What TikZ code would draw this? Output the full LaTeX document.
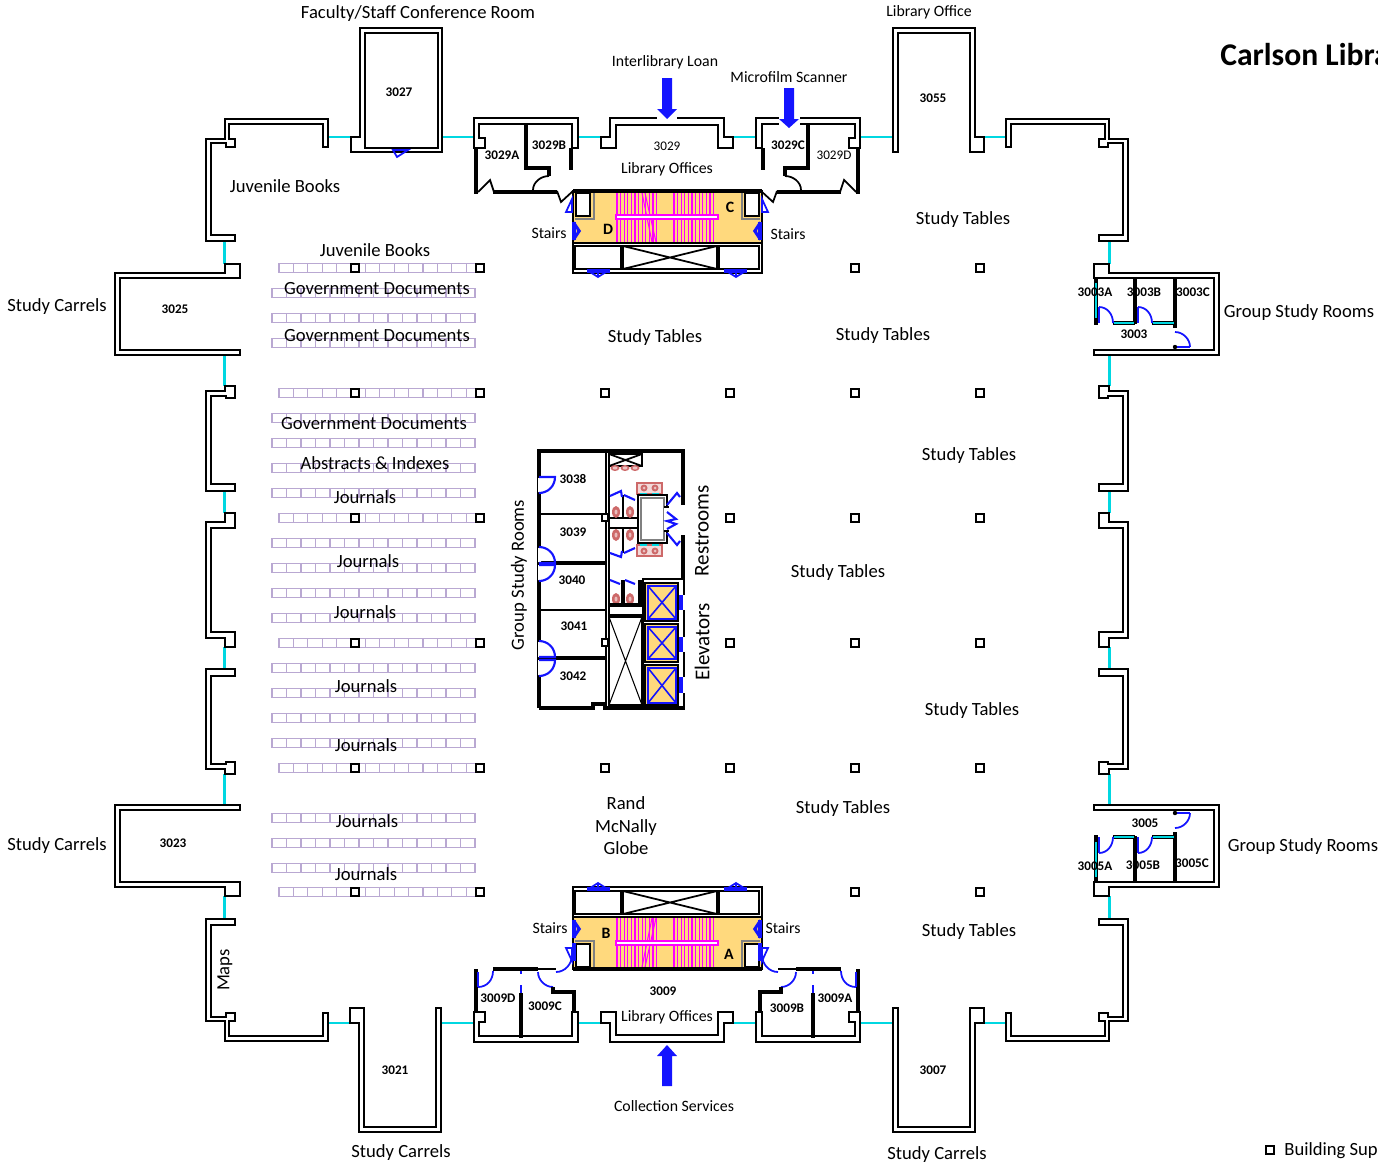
\documentclass[tikz,border=0pt]{standalone}
\usepackage{fontspec}
\setmainfont{Carlito}
\definecolor{winblue}{RGB}{20,20,255}
\definecolor{wincyan}{RGB}{0,215,225}
\definecolor{shelfc}{RGB}{185,168,210}
\definecolor{stairy}{RGB}{255,217,125}
\definecolor{fixt}{RGB}{205,105,105}
\definecolor{stairm}{RGB}{255,0,255}
\tikzset{
  wall/.style={draw=black,line width=1.25pt,fill=white,line join=miter},
  wallo/.style={draw=black,line width=1.25pt,line join=miter},
  heavy/.style={draw=black,line width=2pt},
  win/.style={draw=wincyan,line width=1.3pt},
  door/.style={draw=winblue,line width=1pt},
  ldoor/.style={draw=black,line width=1pt},
  stair/.style={draw=stairm,line width=0.6pt},
  shelf/.style={draw=shelfc,line width=0.6pt},
  pillar/.style={draw=black,line width=1.5pt,fill=white},
  lbl/.style={font=\fontsize{10.6}{12}\selectfont,inner sep=0pt,align=center},
  lblb/.style={font=\fontsize{12}{14}\selectfont,inner sep=0pt},
  lbls/.style={font=\fontsize{9}{10}\selectfont,inner sep=0pt},
  num/.style={font=\fontsize{7.5}{8}\selectfont\bfseries,inner sep=0pt},
  numr/.style={font=\fontsize{7.5}{8}\selectfont,inner sep=0pt},
  mirror/.style 2 args={shift={(667,580)},xscale=#1,yscale=#2,shift={(-667,-580)}},
}
\newcommand{\bluearrowdown}[4]{\fill[winblue] (#1-5,#2)--(#1+5,#2)--(#1+5,#3)--(#1+10,#3)--(#1,#4)--(#1-10,#3)--(#1-5,#3)--cycle;}
\newcommand{\toilet}[2]{\fill[fixt] (#1,#2) ellipse (4 and 6);\fill[fixt!45] (#1,#2) ellipse (1.5 and 2.5);}
\begin{document}
\begin{tikzpicture}[x=0.02cm,y=-0.02cm]
\useasboundingbox (0,0) rectangle (1378,1163);

% shelves
\foreach \y in {268,393,518,643,768,892}{
  \foreach \i in {0,...,13}
    \draw[shelf] ({279+\i*14.4},\y-4.5) rectangle ++(14.4,9);
}
\foreach \y in {293,318,343,418,443,468,493,543,568,593,618,668,693,718,743,818,843,868}{
  \foreach \i in {0,...,13}
    \draw[shelf] ({272+\i*14.5},\y-4.5) rectangle ++(14.5,9);
}

% pillars
\foreach \x in {355,480,855,980}
  \foreach \y in {268,393,518,643,768,892}
    \draw[pillar] (\x-4,\y-4) rectangle (\x+4,\y+4);
\foreach \y in {393,768}
  \draw[pillar] (601,\y-4) rectangle (609,\y+4);
\foreach \y in {393,518,643,768}
  \draw[pillar] (726,\y-4) rectangle (734,\y+4);
\draw[pillar] (1266,1146) rectangle (1274,1154);

% outer shell, one quarter four times
\foreach \sx/\sy in {1/1,-1/1,1/-1,-1/-1}{
\begin{scope}[mirror={\sx}{\sy}]
  \draw[win] (224.5,241)--(224.5,264) (224.5,355)--(224.5,386) (224.5,491)--(224.5,513);
  \draw[win] (328,137)--(360,137) (442,137)--(474,137) (578,137)--(610,137);
  \draw[wall] (206,241)--(206,139)--(225,139)--(225,119)--(328,119)--(328,147)--(323,147)--(323,124)--(229,124)--(229,139)--(235,139)--(235,147)--(226,147)--(226,143)--(211,143)--(211,235)--(235,235)--(235,241)--cycle;
  \draw[wall] (225,264)--(240,264)--(240,278)--(120,278)--(120,350)--(240,350)--(240,355)--(115,355)--(115,273)--(225,273)--cycle;
  \draw[wall] (206,391)--(225,391)--(225,386)--(235,386)--(235,398)--(226,398)--(226,396)--(211,396)--(211,484)--(235,484)--(235,491)--(206,491)--cycle;
  \draw[wallo] (206,580)--(206,522)--(225,522)--(225,513)--(235,513)--(235,528)--(211,528)--(211,580);
  \draw[wall] (474,148)--(474,118)--(578,118)--(578,148)--(572,148)--(572,124)--(479,124)--(479,138)--(485,138)--(485,148)--cycle;
  \draw[wallo] (667.5,118)--(610,118)--(610,137)--(601,137)--(601,148)--(616,148)--(616,125)--(667.5,125);
\end{scope}
}

% carrel rooms that stick out
\draw[wall] (351,137)--(360,137)--(360,28)--(442,28)--(442,152)--(351,152)--cycle;
\draw[wall] (365,33) rectangle (438,148);
\draw[door] (393,150)--(408,150)--(397,157)--cycle;
\foreach \sx/\sy in {-1/1,-1/-1,1/-1}{
\begin{scope}[mirror={-\sx}{\sy}]
  \draw[wall] (893,152)--(893,28)--(975,28)--(975,137)--(984,137)--(984,152)--(970,152)--(970,33)--(898,33)--(898,152)--cycle;
\end{scope}
}

% stair cores
\foreach \sy in {1,-1}{
\begin{scope}[mirror={1}{\sy}]
  \fill[stairy] (574,193) rectangle (761,242);
  \foreach \x in {617,620.6,...,660}
    \draw[stair] (\x,193)--(\x,242);
  \foreach \x in {674,677.6,...,717}
    \draw[stair] (\x,193)--(\x,242);
  \draw[stair] (642,193)--(652,242) (645,193)--(656,242);
  \draw[stair,fill=white] (616,215) rectangle (718,219);
  \draw[wallo] (573,191) rectangle (762,273);
  \draw[heavy] (573,191)--(762,191);
  \draw[wallo] (573,243)--(762,243);
  \draw[wall] (575,246) rectangle (621,269);
  \draw[wall] (623,246) rectangle (717,269);
  \draw[ldoor] (623,246)--(717,269) (623,269)--(717,246);
  \draw[wall] (719,246) rectangle (759,269);
  \draw[draw=gray,line width=1pt] (575,219)--(594,219)--(594,193);
  \draw[wall] (576,193) rectangle (590,216);
  \draw[draw=gray,line width=1pt] (760,219)--(742,219)--(742,193);
  \draw[wall] (745,193) rectangle (759,216);
\end{scope}
}
\foreach \sx/\sy in {1/1,-1/1,1/-1,-1/-1}{
\begin{scope}[mirror={\sx}{\sy}]
  \draw[door,line width=1.8pt] (574,222)--(574,240);
  \draw[door] (574,222)--(580,231)--(574,240) (576,226)--(578,231)--(576,236);
  \draw[door,line width=1.8pt] (587,271)--(610,271);
  \draw[door] (590,272)--(598,277)--(606,272) (598,271)--(598,277);
\end{scope}
}
\foreach \sx in {1,-1}{
\begin{scope}[mirror={\sx}{1}]
  \draw[door] (572,199)--(566,212)--(572,212)--cycle;
\end{scope}
\begin{scope}[mirror={\sx}{-1}]
  \draw[door] (572,199)--(566,212)--(572,212)--cycle;
  \draw[door,line width=1.8pt] (574,199)--(574,217);
\end{scope}
}

% office partitions, top
\foreach \sx in {1,-1}{
\begin{scope}[mirror={\sx}{1}]
  \draw[heavy] (476,148)--(476,192)--(478,192);
  \draw[ldoor] (478,192)--(490,180)--(494,192);
  \draw[heavy] (493,192)--(557,192);
  \draw[heavy] (526,124)--(526,168)--(549,168)--(549,176);
  \draw[ldoor] (533,190) .. controls (533,182) and (541,176) .. (549,176);
  \draw[heavy] (571,148)--(571,170);
  \draw[ldoor] (557,191)--(561,202)--(573,191);
\end{scope}
% office partitions, bottom
\begin{scope}[mirror={\sx}{1}]
  \draw[heavy] (476,1013)--(476,969);
  \draw[door,line width=1.6pt] (478,972)--(478,987);
  \draw[door] (493,971) .. controls (493,980) and (487,987) .. (478,987);
  \draw[heavy] (493,969)--(538,969);
  \draw[ldoor] (538,969)--(556,969);
  \draw[door] (538,972) .. controls (538,980) and (545,987) .. (553,987);
  \draw[heavy] (553,987)--(553,992)--(574,992)--(574,1013);
  \draw[door] (556,972) .. controls (565,972) and (572,964) .. (572,955);
  \draw[heavy] (521,993)--(521,1038);
  \draw[door,line width=1.6pt] (521,985)--(521,993) (521,971)--(521,974);
\end{scope}
}

% group study rooms, right side
\foreach \sy in {1,-1}{
\begin{scope}[mirror={1}{\sy}]
  \draw[heavy] (1096,278)--(1096,325);
  \draw[win,line width=1.5pt] (1096,283)--(1096,318);
  \draw[heavy] (1135,278)--(1135,324) (1175,278)--(1175,328);
  \draw[heavy] (1113,323)--(1135,323) (1152,323)--(1175,323);
  \draw[win] (1114,323)--(1134,323) (1153,323)--(1174,323);
  \draw[door,line width=1.6pt] (1099,307)--(1099,323) (1138,307)--(1138,323);
  \draw[door] (1099,307) .. controls (1107,307) and (1113,314) .. (1113,323);
  \draw[door] (1138,307) .. controls (1146,307) and (1152,314) .. (1152,323);
  \draw[door,line width=1.6pt] (1175,347)--(1190,347);
  \draw[door] (1175,332) .. controls (1183,332) and (1190,339) .. (1190,347);
  \fill (1175,347) circle (2.2);
\end{scope}
}

% centre block: study rooms
\draw[heavy] (539,708)--(539,451)--(685,451);
\draw[heavy] (539,708)--(593,708)--(593,704)--(605,704)--(605,708)--(685,708);
\draw[wallo] (606,451)--(606,708);
\draw[line width=0.8pt] (609,453)--(609,706);
\draw[wallo] (539,514)--(606,514) (539,610)--(606,610);
\draw[heavy] (539,563)--(606,563) (539,658)--(606,658);
\fill[white] (538,478) rectangle (541,492) (538,548) rectangle (541,562) (538,565) rectangle (541,580) (538,642) rectangle (541,657) (538,660) rectangle (541,675);
\draw[door,line width=1.2pt] (539,477)--(555,477) .. controls (555,486) and (548,493) .. (539,493);
\draw[door,line width=1.2pt] (539,547) .. controls (548,547) and (555,554) .. (555,563)--(539,563);
\draw[door,line width=1.2pt] (539,565)--(555,565) .. controls (555,574) and (548,581) .. (539,581);
\draw[door,line width=1.2pt] (539,641) .. controls (548,641) and (555,648) .. (555,657)--(539,657);
\draw[door,line width=1.2pt] (539,660)--(555,660) .. controls (555,669) and (548,676) .. (539,676);
\draw[wall,line width=0.9pt] (602,514) rectangle (608,521);
\draw[wall,line width=0.9pt] (602,639) rectangle (608,646);

% centre block: restrooms
\draw[heavy,line width=2.8pt] (683,453)--(683,505) (683,535)--(683,580);
\draw[wall] (609,454) rectangle (642,466);
\draw[ldoor] (609,454)--(642,466) (609,466)--(642,454);
\foreach \x in {615,625,635}{
  \fill[fixt] (\x,468) ellipse (4.5 and 3);
  \fill[fixt!40] (\x,468) ellipse (2.5 and 1.5);
}
\draw[draw=fixt,fill=fixt!25,line width=0.6pt] (637,483) rectangle (662,494);
\draw[draw=fixt,fill=fixt!25,line width=0.6pt] (637,545) rectangle (662,556);
\foreach \x/\y in {644/488,655/488,644/551,655/551}{
  \fill[fixt] (\x,\y) circle (3.5);
  \fill[fixt!40] (\x,\y) circle (1.5);
}
\draw[win,line width=0.9pt] (640,494)--(647,494) (652,494)--(659,494) (640,545)--(647,545) (652,545)--(659,545);
\draw[wall] (638,495) rectangle (667,543);
\draw[draw=gray,line width=0.8pt] (641,498) rectangle (664,540);
\fill[white] (664,507) rectangle (669,531);
\draw[wallo] (664,507)--(669,507) (664,531)--(669,531);
\draw[wallo] (609,518)--(638,518) (609,528)--(638,528);
\draw[wallo] (623,495)--(623,518) (623,528)--(623,553);
\foreach \x in {616,630}{
  \toilet{\x}{512}
  \toilet{\x}{535}
  \toilet{\x}{599}
}
\draw[door,line width=1.2pt] (610,496)--(621,491)--(622,497) (624,495)--(635,500);
\draw[door,line width=1.2pt] (610,553)--(621,557)--(622,551) (624,553)--(635,548);
\draw[door,line width=1.2pt] (667,505)--(677,493)--(680,497) (667,533)--(677,545)--(680,541);
\draw[door,line width=1.2pt] (667,512)--(676,519)--(667,521)--(676,524)--(667,529);
\draw[heavy] (609,605)--(640,605)--(640,580) (623,605)--(623,580);
\draw[door,line width=1.2pt] (610,580)--(620,584) (625,580)--(635,584);
\draw[wallo] (609,615)--(642,615);

% centre block: shaft and lifts
\draw[wall] (609,617) rectangle (642,705);
\draw[line width=0.6pt] (609,617)--(642,705) (609,705)--(642,617);
\draw[wallo] (643,579) rectangle (684,707);
\foreach \ya/\yb/\yc/\yd in {583/621/586/619,624/662/627/659,665/705/668/703}{
  \draw[fill=stairy,draw=black,line width=0.8pt] (645,\ya) rectangle (678,\yb);
  \draw[draw=winblue,line width=1.2pt] (648,\yc) rectangle (676,\yd);
  \draw[draw=winblue,line width=0.9pt] (648,\yc)--(676,\yd) (648,\yd)--(676,\yc);
}
\foreach \ya/\yb in {595/610,637/652,677/693}{
  \fill[white] (682,\ya) rectangle (686,\yb);
  \draw[door,line width=2.2pt] (681,\ya)--(681,\yb);
}

% arrows
\fill[white] (657,116) rectangle (677,120);
\fill[white] (779,116) rectangle (800,127);
\bluearrowdown{667}{78}{109}{119}
\bluearrowdown{789}{88}{119}{128}
\bluearrowdown{667}{1086}{1056}{1045}

% labels
\node[lbl,font=\fontsize{18}{20}\selectfont\bfseries,anchor=west] (title) at (1220,55) {Carlson Libra};
\node[lbl,anchor=west] (legend) at (1284,1151) {Building Sup};
\node[lbl] (confroom) at (418,14) {Faculty/Staff Conference Room};
\node[lbls] (liboffice) at (929,12) {Library Office};
\node[lbls] (ill) at (665,62) {Interlibrary Loan};
\node[lbls] (micro) at (789,77) {Microfilm Scanner};
\node[lbls] (collserv) at (674,1106) {Collection Services};
\node[lbl] (juv1) at (285,186) {Juvenile Books};
\node[lbl] (juv2) at (375,250) {Juvenile Books};
\node[lbl] (gov1) at (377,289) {Government Documents};
\node[lbl] (gov2) at (377,336) {Government Documents};
\node[lbl] (gov3) at (374,424) {Government Documents};
\node[lbl] (abstr) at (375,463) {Abstracts \& Indexes};
\node[lbl] (jour1) at (365,497) {Journals};
\node[lbl] (jour2) at (368,561) {Journals};
\node[lbl] (jour3) at (365,612) {Journals};
\node[lbl] (jour4) at (366,686) {Journals};
\node[lbl] (jour5) at (366,745) {Journals};
\node[lbl] (jour6) at (367,821) {Journals};
\node[lbl] (jour7) at (366,874) {Journals};
\node[lbl] (carr1) at (57,307) {Study Carrels};
\node[lbl] (carr2) at (57,846) {Study Carrels};
\node[lbl] (carr3) at (401,1153) {Study Carrels};
\node[lbl] (carr4) at (937,1155) {Study Carrels};
\node[lbl] (tab1) at (963,220) {Study Tables};
\node[lbl] (tab2) at (883,336) {Study Tables};
\node[lbl] (tab3) at (655,338) {Study Tables};
\node[lbl] (tab4) at (969,456) {Study Tables};
\node[lbl] (tab5) at (838,573) {Study Tables};
\node[lbl] (tab6) at (972,711) {Study Tables};
\node[lbl] (tab7) at (843,809) {Study Tables};
\node[lbl] (tab8) at (969,932) {Study Tables};
\node[lbl] (grp1) at (1299,313) {Group Study Rooms};
\node[lbl] (grp2) at (1303,847) {Group Study Rooms};
\node[lbl,rotate=90] (grp3) at (519,575) {Group Study Rooms};
\node[lblb,rotate=90] (rest) at (702,531) {Restrooms};
\node[lblb,rotate=90] (elev) at (702,642) {Elevators};
\node[lbl,rotate=90] (maps) at (225,970) {Maps};
\node[lbl] (globe) at (626,826) {Rand\\[0.8pt]McNally\\[0.8pt]Globe};
\node[lbls] (off1) at (667,169) {Library Offices};
\node[lbls] (off2) at (667,1017) {Library Offices};
\node[lbls] (st1) at (549,233) {Stairs};
\node[lbls] (st2) at (788,234) {Stairs};
\node[lbls] (st3) at (550,928) {Stairs};
\node[lbls] (st4) at (783,928) {Stairs};
\node[lbls,font=\fontsize{9}{10}\selectfont\bfseries] (sC) at (730,207) {C};
\node[lbls,font=\fontsize{9}{10}\selectfont\bfseries] (sD) at (608,229) {D};
\node[lbls,font=\fontsize{9}{10}\selectfont\bfseries] (sB) at (606,933) {B};
\node[lbls,font=\fontsize{9}{10}\selectfont\bfseries] (sA) at (729,954) {A};
\node[num] (r3027) at (399,92) {3027};
\node[num] (r3025) at (175,309) {3025};
\node[num] (r3023) at (173,843) {3023};
\node[num] (r3021) at (395,1070) {3021};
\node[num] (r3055) at (933,98) {3055};
\node[num] (r3007) at (933,1070) {3007};
\node[numr] (r3029) at (667,146) {3029};
\node[num] (r3029A) at (502,155) {3029A};
\node[num] (r3029B) at (549,145) {3029B};
\node[num] (r3029C) at (788,145) {3029C};
\node[numr] (r3029D) at (834,155) {3029D};
\node[num] (r3009) at (663,991) {3009};
\node[num] (r3009D) at (498,998) {3009D};
\node[num] (r3009C) at (545,1006) {3009C};
\node[num] (r3009B) at (787,1008) {3009B};
\node[num] (r3009A) at (835,998) {3009A};
\node[num] (r3003A) at (1095,292) {3003A};
\node[num] (r3003B) at (1144,292) {3003B};
\node[num] (r3003C) at (1193,292) {3003C};
\node[num] (r3003) at (1134,334) {3003};
\node[num] (r3005) at (1145,823) {3005};
\node[num] (r3005A) at (1095,866) {3005A};
\node[num] (r3005B) at (1143,865) {3005B};
\node[num] (r3005C) at (1192,863) {3005C};
\node[num] (r3038) at (573,479) {3038};
\node[num] (r3039) at (573,532) {3039};
\node[num] (r3040) at (572,580) {3040};
\node[num] (r3041) at (574,626) {3041};
\node[num] (r3042) at (573,676) {3042};
\end{tikzpicture}
\end{document}
